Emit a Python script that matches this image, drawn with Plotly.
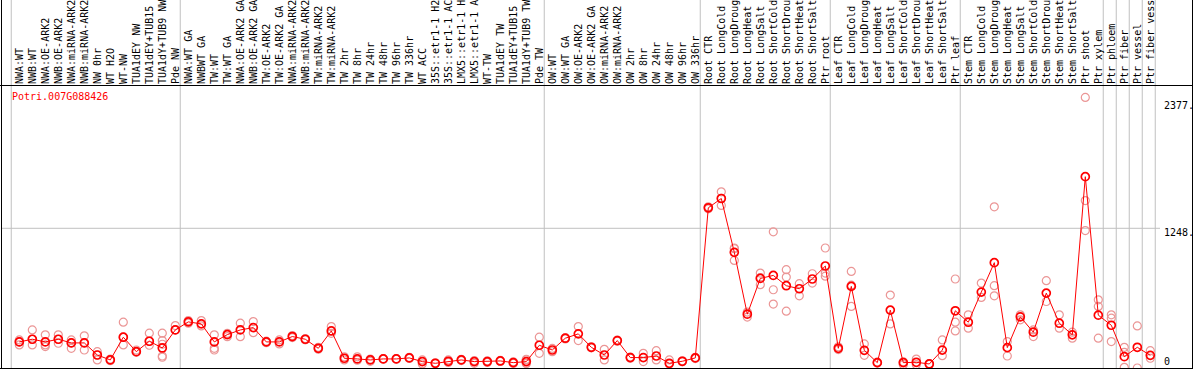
import plotly.graph_objects as go

labels = [
    "NWA:WT", "NWB:WT", "NWA:OE-ARK2", "NWB:OE-ARK2", "NWA:miRNA-ARK2", "NWB:miRNA-ARK2",
    "NW 0hr", "WT H2O", "WT-NW", "TUA1dEY NW", "TUA1dEY+TUB15", "TUA1dY+TUB9 NW", "Pde NW",
    "NWA:WT GA", "NWBWT GA", "TW:WT", "TW:WT GA", "NWA:OE-ARK2 GA", "NWB:OE-ARK2 GA",
    "TW:OE-ARK2", "TW:OE-ARK2 GA", "NWA:miRNA-ARK2", "NWB:miRNA-ARK2", "TW:miRNA-ARK2",
    "TW:miRNA-ARK2", "TW 2hr", "TW 8hr", "TW 24hr", "TW 48hr", "TW 96hr", "TW 336hr",
    "WT ACC", "35S::etr1-1 H2", "35S::etr1-1 AC", "LMX5::etr1-1 H", "LMX5::etr1-1 A",
    "WT-TW", "TUA1dEY TW", "TUA1dEY+TUB15", "TUA1dY+TUB9 TW", "Pde TW",
    "OW:WT", "OW:WT GA", "OW:OE-ARK2", "OW:OE-ARK2 GA", "OW:miRNA-ARK2", "OW:miRNA-ARK2",
    "OW 2hr", "OW 8hr", "OW 24hr", "OW 48hr", "OW 96hr", "OW 336hr",
    "Root CTR", "Root LongCold", "Root LongDroug", "Root LongHeat", "Root LongSalt",
    "Root ShortCold", "Root ShortDrou", "Root ShortHeat", "Root ShortSalt", "Ptr root",
    "Leaf CTR", "Leaf LongCold", "Leaf LongDroug", "Leaf LongHeat", "Leaf LongSalt",
    "Leaf ShortCold", "Leaf ShortDrou", "Leaf ShortHeat", "Leaf ShortSalt", "Ptr leaf",
    "Stem CTR", "Stem LongCold", "Stem LongDroug", "Stem LongHeat", "Stem LongSalt",
    "Stem ShortCold", "Stem ShortDrou", "Stem ShortHeat", "Stem ShortSalt", "Ptr shoot",
    "Ptr xylem", "Ptr phloem", "Ptr fiber", "Ptr vessel", "Ptr fiber vessel",
]

mean_vals = [
    233, 257, 233, 257, 224, 224, 116, 72, 275, 146, 239, 179, 340,
    412, 394, 233, 298, 340, 361, 233, 233, 281, 257, 176, 331, 87, 81, 72, 81, 81, 90,
    57, 42, 60, 72, 57, 57, 63, 48, 57, 203,
    161, 266, 305, 185, 116, 245, 93, 93, 107, 42, 60, 90,
    1431, 1514, 1033, 481, 800, 827, 735, 708, 795, 911,
    176, 729, 158, 48, 517, 48, 51, 36, 160, 511,
    409, 678, 941, 182, 457, 320, 669, 400, 296, 1709,
    472, 382, 101, 185, 113,
]

rep_vals = [
    [251, 233, 206], [340, 257, 206], [296, 206, 191], [296, 257, 221], [251, 224, 176],
    [287, 224, 161], [146, 116, 72], [80, 65], [409, 275, 206], [161, 140],
    [311, 239, 203], [311, 245, 212, 107, 96], [379, 340],
    [424, 400], [424, 376], [296, 176, 161], [280, 310], [400, 280], [415, 316],
    [240, 226], [251, 215], [290, 272], [262, 252], [185, 168], [370, 310],
    [72, 100], [100, 70], [60, 80], [85, 78], [84, 78], [96, 85],
    [36, 72], [45, 40], [72, 50], [78, 66], [42, 66], [50, 64], [68, 58], [40, 56],
    [72, 42, 78, 40], [275, 131],
    [146, 175], [270, 260], [370, 245], [190, 180], [167, 72], [250, 240],
    [98, 88], [131, 57], [155, 72], [72, 36], [64, 56], [96, 84],
    [1440, 1422], [1574, 1452, 1516], [1072, 961, 1066], [455, 500], [848, 744, 808],
    [1216, 699, 571], [878, 812, 508], [753, 645], [842, 759], [1072, 848, 820],
    [190, 165], [863, 740, 550], [215, 113], [52, 44], [651, 394], [30, 55], [80, 30],
    [40, 32], [251, 110], [795, 409, 331],
    [475, 356], [759, 630], [1440, 735, 645], [236, 107], [475, 430], [281, 340],
    [780, 594], [475, 356], [320, 266], [2417, 1496, 1228],
    [609, 550, 266], [475, 445, 236], [185, 140, 6], [376, 0], [155, 87],
]

# first index of each group (group boundaries)
group_starts = [0, 13, 41, 53, 63, 73, 84, 85, 86, 87, 88]

y_ticks_main = [0]
y_ticks_top = [1248, 2377]
y_tick_text_top = ["1248.", "2377."]

title_text = "Potri.007G088426"

FONT = "DejaVu Sans Mono"
RED = "#ff0000"
REP_COLOR = "#eb9696"
GRID = "#c0c0c0"

W, H = 1194, 370
L, R, T, B = 1, 34, 85, 2
PW = W - L - R
PH = H - T - B

x = list(range(len(labels)))
rep_x, rep_y = [], []
for i, reps in enumerate(rep_vals):
    for v in reps:
        rep_x.append(i)
        rep_y.append(v)

YMAX = 2528
XMIN, XMAX = -1.408, 87.746

fig = go.Figure()
fig.add_trace(go.Scatter(
    x=rep_x, y=rep_y, mode="markers", yaxis="y",
    marker=dict(symbol="circle-open", size=8, color=REP_COLOR, line=dict(width=1.2)),
    hoverinfo="skip", showlegend=False,
))
fig.add_trace(go.Scatter(
    x=x, y=mean_vals, mode="lines+markers", yaxis="y2",
    line=dict(color=RED, width=1),
    marker=dict(symbol="circle-open", size=8, color=RED, line=dict(width=1.7)),
    showlegend=False,
))

def px_x(p):
    return (p - L) / PW

def px_y(p):
    return (H - B - p) / PH

shapes = []
for b in group_starts:
    shapes.append(dict(type="line", xref="x", yref="paper", x0=b - 0.62, x1=b - 0.62,
                       y0=0, y1=px_y(0), line=dict(color=GRID, width=1), layer="below"))
shapes.append(dict(type="line", xref="paper", yref="y", x0=0, x1=1, y0=1248, y1=1248,
                   line=dict(color=GRID, width=1), layer="below"))
# frame
frame = dict(color="black", width=1)
shapes.append(dict(type="line", xref="paper", yref="paper", x0=px_x(0), x1=px_x(1193),
                   y0=px_y(85.5), y1=px_y(85.5), line=frame))
shapes.append(dict(type="line", xref="paper", yref="paper", x0=px_x(0), x1=px_x(1193),
                   y0=px_y(368.5), y1=px_y(368.5), line=frame))
shapes.append(dict(type="line", xref="paper", yref="paper", x0=px_x(1.5), x1=px_x(1.5),
                   y0=px_y(369), y1=px_y(0), line=frame))
shapes.append(dict(type="line", xref="paper", yref="paper", x0=px_x(1192.5), x1=px_x(1192.5),
                   y0=px_y(369), y1=px_y(0), line=frame))

fig.update_layout(
    width=W, height=H,
    margin=dict(l=L, r=R, t=T, b=B, pad=0, autoexpand=False),
    paper_bgcolor="white", plot_bgcolor="white",
    showlegend=False,
    font=dict(family=FONT, size=10, color="black"),
    xaxis=dict(
        range=[XMIN, XMAX], side="top", tickmode="array", tickvals=x, ticktext=labels,
        tickangle=-90, tickfont=dict(family=FONT, size=10, color="black"),
        showgrid=False, zeroline=False, showline=False, ticks="",
        ticklabelstandoff=0, automargin=False,
    ),
    yaxis=dict(
        range=[0, YMAX], side="right", tickmode="array", tickvals=y_ticks_main,
        ticktext=["0"], showgrid=False, zeroline=False, showline=False, ticks="",
        tickfont=dict(family=FONT, size=10, color="black"), ticklabelshift=-7,
        ticklabelstandoff=3, automargin=False,
    ),
    yaxis2=dict(
        range=[0, YMAX], side="right", overlaying="y", tickmode="array",
        tickvals=y_ticks_top, ticktext=y_tick_text_top, showgrid=False, zeroline=False,
        showline=False, ticks="", tickfont=dict(family=FONT, size=10, color="black"),
        ticklabelshift=4, ticklabelstandoff=3, automargin=False,
    ),
    shapes=shapes,
    annotations=[dict(
        text=title_text, xref="paper", yref="paper", x=px_x(9.5), y=px_y(96.5),
        xanchor="left", yanchor="middle", showarrow=False,
        font=dict(family=FONT, size=10, color=RED),
    )],
)

fig.write_html(
    "out.html",
    config={"displayModeBar": False},
    post_script="document.body.style.margin='0px';document.body.style.overflow='hidden';",
)
